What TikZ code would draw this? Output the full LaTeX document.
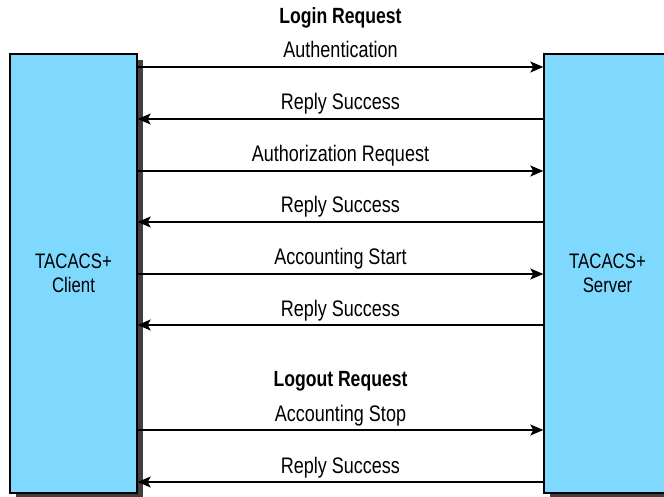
\documentclass[tikz,border=0pt]{standalone}
\usepackage{fontspec}
\setmainfont{Liberation Sans}[FakeStretch=0.8]
\usetikzlibrary{arrows.meta,shadows}
\definecolor{boxblue}{RGB}{127,217,255}
\definecolor{shadowgray}{RGB}{64,64,64}
\begin{document}
\begin{tikzpicture}[x=1pt,y=-1pt,
  party/.style={draw=black, line width=1.4pt, fill=boxblue,
    minimum width=127pt, minimum height=439pt, inner sep=0pt,
    align=center, font=\fontsize{21}{24}\selectfont,
    drop shadow={shadow xshift=6pt, shadow yshift=-6pt, fill=shadowgray, opacity=1}},
  msg/.style={line width=1.4pt, -{Stealth[length=13pt,width=11pt,inset=3pt]}},
  lbl/.style={anchor=base, inner sep=0pt, font=\fontsize{22.5}{24}\selectfont},
  hdr/.style={anchor=base, inner sep=0pt, font=\fontsize{22}{24}\selectfont\bfseries}]
\useasboundingbox (0,0) rectangle (664,497);
\node[party] (client) at (73.5,273.5) {TACACS+\\Client};
\node[party] (server) at (607.5,273.5) {TACACS+\\Server};

\node[hdr] (login) at (340.5,24) {Login Request};
\node[hdr] (logout) at (340.5,386) {Logout Request};

\node[lbl] (l1) at (340.5,58) {Authentication};
\node[lbl] (l2) at (340.5,110) {Reply Success};
\node[lbl] (l3) at (340.5,162) {Authorization Request};
\node[lbl] (l4) at (340.5,213) {Reply Success};
\node[lbl] (l5) at (340.5,265) {Accounting Start};
\node[lbl] (l6) at (340.5,316) {Reply Success};
\node[lbl] (l7) at (340.5,421) {Accounting Stop};
\node[lbl] (l8) at (340.5,473) {Reply Success};

\draw[msg] (client.east |- 0,67)  -- (server.west |- 0,67);
\draw[msg] (server.west |- 0,119) -- (client.east |- 0,119);
\draw[msg] (client.east |- 0,171) -- (server.west |- 0,171);
\draw[msg] (server.west |- 0,222) -- (client.east |- 0,222);
\draw[msg] (client.east |- 0,274) -- (server.west |- 0,274);
\draw[msg] (server.west |- 0,325) -- (client.east |- 0,325);
\draw[msg] (client.east |- 0,430) -- (server.west |- 0,430);
\draw[msg] (server.west |- 0,482) -- (client.east |- 0,482);
\end{tikzpicture}
\end{document}
